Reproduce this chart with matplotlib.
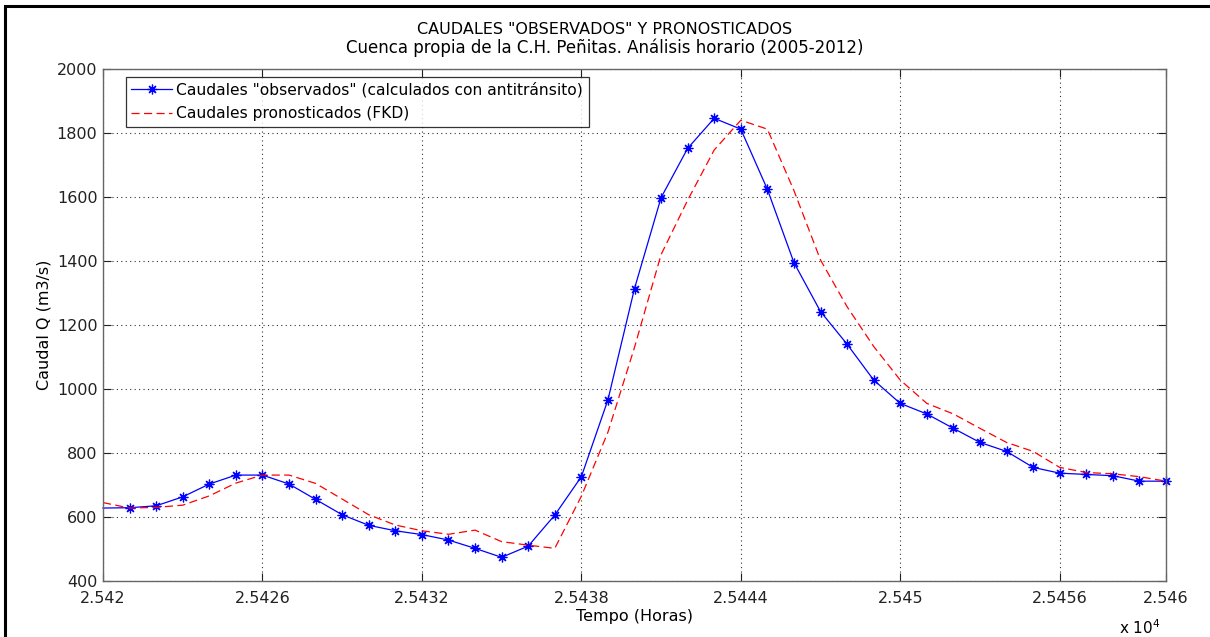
import matplotlib
matplotlib.use("Agg")
import matplotlib.pyplot as plt
from matplotlib.patches import Rectangle

# Hours (x axis) and flows
horas = list(range(25420, 25461))
observados = [628, 629, 635, 663, 703, 731, 731, 703, 655, 607,
              574, 557, 545, 528, 502, 474, 509, 606, 726, 966,
              1314, 1598, 1752, 1846, 1812, 1624, 1395, 1242, 1140, 1028,
              955, 922, 877, 833, 805, 755, 737, 733, 729, 712, 712]
pronosticados = [645, 628, 630, 637, 666, 706, 731, 731, 705, 656,
                 607, 575, 557, 546, 559, 523, 512, 502, 665, 865,
                 1130, 1420, 1590, 1747, 1840, 1812, 1620, 1403, 1257, 1133,
                 1028, 955, 922, 877, 833, 805, 755, 739, 735, 726, 712]

xticks = [25420, 25426, 25432, 25438, 25444, 25450, 25456, 25460]
xtick_labels = ["2.542", "2.5426", "2.5432", "2.5438", "2.5444", "2.545", "2.5456", "2.546"]
yticks = [400, 600, 800, 1000, 1200, 1400, 1600, 1800, 2000]

plt.rcParams["font.family"] = "DejaVu Sans"

fig = plt.figure(figsize=(12.1, 6.37), dpi=100)
ax = fig.add_axes([103 / 1210, 56 / 637, 1063 / 1210, 512 / 637])

# figure frame
fig.patches.append(Rectangle((5 / 1210, -0.05), 1.2, 1.05 - 6 / 637,
                             transform=fig.transFigure, fill=False,
                             edgecolor="black", linewidth=2.2))

ax.plot(horas, observados, color="blue", linewidth=0.9,
        marker=(8, 2, 0), markersize=7, markeredgewidth=0.9,
        markevery=slice(1, None), clip_on=False,
        label='Caudales "observados" (calculados con antitránsito)')
ax.plot(horas, pronosticados, color="red", linewidth=0.9,
        linestyle=(0, (6.5, 3.5)),
        label="Caudales pronosticados (FKD)")

ax.set_xlim(25420, 25460)
ax.set_ylim(400, 2000)
ax.set_xticks(xticks)
ax.set_xticklabels(xtick_labels)
ax.set_yticks(yticks)

ax.grid(True, linestyle=(0, (1, 3)), color="black", linewidth=0.8, alpha=0.8)
ax.tick_params(direction="in", top=True, right=True, length=6,
               labelsize=11.5, colors="#222222", pad=4)
ax.tick_params(axis="x", pad=7)
for s in ax.spines.values():
    s.set_color("#666666")
    s.set_linewidth(1.0)

ax.set_ylabel("Caudal Q (m3/s)", fontsize=11.5, labelpad=4)
ax.set_xlabel("Tempo (Horas)", fontsize=11.5, labelpad=2)

# two-line title
fig.text(0.5, 1 - 30 / 637, 'CAUDALES "OBSERVADOS" Y PRONOSTICADOS',
         fontsize=11.5, ha="center", va="center")
fig.text(0.5, 1 - 48 / 637,
         "Cuenca propia de la C.H. Peñitas. Análisis horario (2005-2012)",
         fontsize=12, ha="center", va="center")

fig.text(1140 / 1210, 1 - 628 / 637, r"x 10$^{4}$", fontsize=11,
         ha="center", va="center")

leg = ax.legend(loc="upper left", bbox_to_anchor=(0.0215, 0.985),
                fontsize=11.2, frameon=True, fancybox=False,
                edgecolor="black", handlelength=2.6, handletextpad=0.3,
                borderpad=0.35, labelspacing=0.55, borderaxespad=0)
leg.get_frame().set_linewidth(0.9)

fig.savefig("out.png", dpi=100)
